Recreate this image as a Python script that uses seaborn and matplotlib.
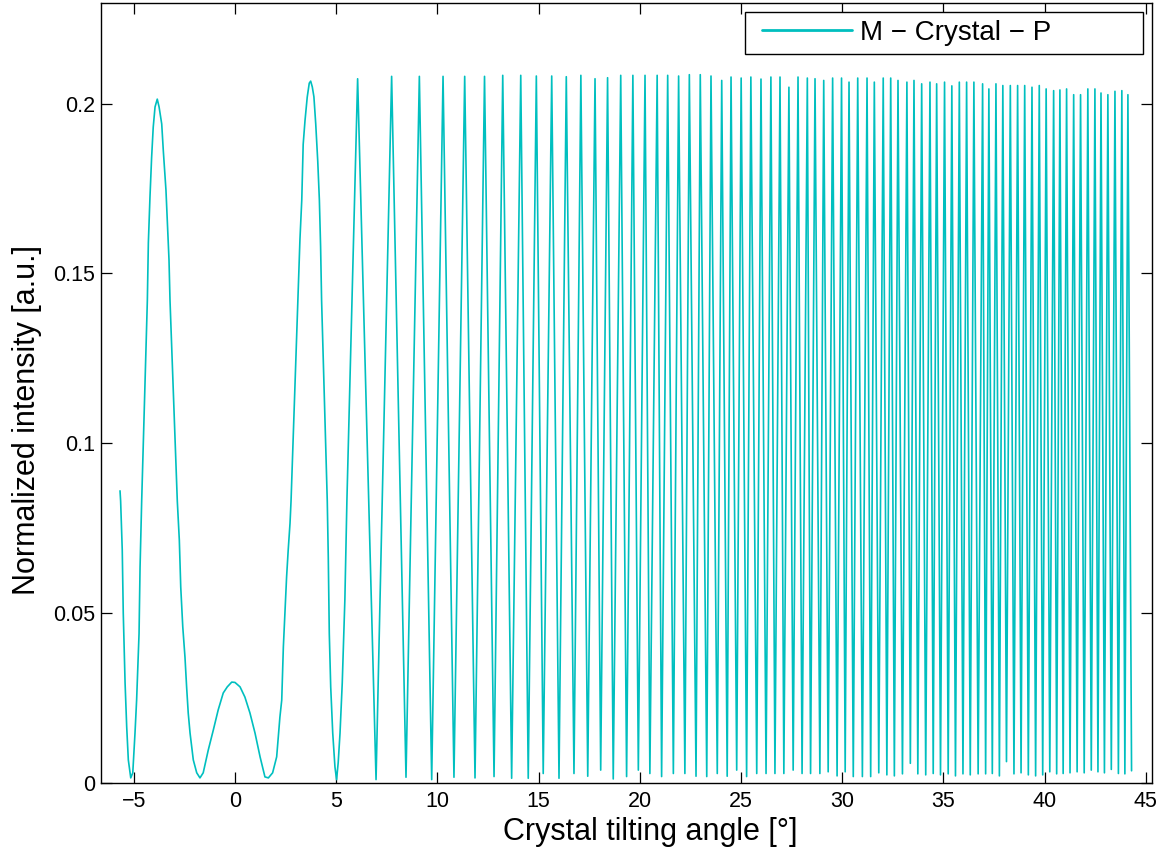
import numpy as np
import matplotlib
matplotlib.use("Agg")
import matplotlib.pyplot as plt
from matplotlib.lines import Line2D
from matplotlib.legend_handler import HandlerLine2D
import seaborn as sns

# ---------------- data ----------------
# smooth low-angle part of the curve (vertices)
early_x = [-5.68, -5.65, -5.57, -5.52, -5.43, -5.35, -5.27, -5.15, -5.05, -4.94,
           -4.86, -4.74, -4.69, -4.61, -4.33, -4.28, -4.20, -4.12, -4.04, -3.95,
           -3.84, -3.75, -3.62, -3.54, -3.41, -3.33, -3.26, -3.21, -2.85, -2.75,
           -2.68, -2.58, -2.47, -2.39, -2.31, -2.22, -2.06, -1.89, -1.73, -1.57,
           -1.32, -1.07, -0.83, -0.58, -0.38, -0.16, 0.00, 0.25, 0.49, 0.74,
           0.99, 1.24, 1.48, 1.65, 1.86, 2.06, 2.22, 2.31, 2.39, 2.47,
           2.55, 2.63, 2.72, 2.77, 3.13, 3.21, 3.30, 3.37, 3.46, 3.57,
           3.67, 3.74, 3.82, 3.90, 3.99, 4.09, 4.17, 4.23, 4.28, 4.56,
           4.61, 4.66, 4.73, 4.83, 4.94, 5.02, 5.10, 5.19, 5.30, 5.43,
           5.50, 5.53]
early_y = [0.0860, 0.0830, 0.0686, 0.0500, 0.0294, 0.0165, 0.0068, 0.0015, 0.0030, 0.0147,
           0.0244, 0.0440, 0.0636, 0.0830, 0.1420, 0.1590, 0.1725, 0.1840, 0.1930, 0.1990,
           0.2013, 0.1990, 0.1940, 0.1860, 0.1745, 0.1637, 0.1540, 0.1420, 0.0830, 0.0715,
           0.0577, 0.0460, 0.0370, 0.0283, 0.0206, 0.0147, 0.0068, 0.0030, 0.0015, 0.0030,
           0.0097, 0.0156, 0.0215, 0.0265, 0.0283, 0.0297, 0.0296, 0.0283, 0.0253, 0.0206,
           0.0147, 0.0077, 0.0018, 0.0015, 0.0030, 0.0077, 0.0194, 0.0244, 0.0400, 0.0500,
           0.0606, 0.0686, 0.0765, 0.0830, 0.1460, 0.1600, 0.1716, 0.1880, 0.1950, 0.2019,
           0.2060, 0.2066, 0.2049, 0.2020, 0.1940, 0.1830, 0.1716, 0.1580, 0.1420, 0.0830,
           0.0665, 0.0440, 0.0283, 0.0147, 0.0047, 0.0010, 0.0060, 0.0147, 0.0294, 0.0540,
           0.0736, 0.0830]

# fringe maxima (angle, intensity) in the fast-oscillating part
peak_x = [6.06, 7.74, 9.11, 10.28, 11.35, 12.33,
          13.23, 14.12, 14.89, 15.65, 16.37, 17.09, 17.79, 18.41, 19.06, 19.66,
          20.26, 20.86, 21.38, 21.92, 22.45, 22.99, 23.52, 24.05, 24.51, 25.01,
          25.49, 25.99, 26.48, 26.93, 27.37, 27.82, 28.28, 28.66, 29.09, 29.53,
          29.97, 30.34, 30.77, 31.23, 31.59, 32.03, 32.40, 32.76, 33.20, 33.55,
          33.93, 34.34, 34.67, 35.06, 35.42, 35.79, 36.15, 36.51, 36.94, 37.25,
          37.60, 37.94, 38.31, 38.67, 39.02, 39.38, 39.74, 40.08, 40.45, 40.76,
          41.09, 41.44, 41.78, 42.14, 42.49, 42.79, 43.13, 43.48, 43.82, 44.12]
peak_y = [0.2073, 0.2080, 0.2080, 0.2080, 0.2080, 0.2080,
          0.2083, 0.2083, 0.2081, 0.2081, 0.2079, 0.2083, 0.2073, 0.2076, 0.2083, 0.2083,
          0.2083, 0.2083, 0.2083, 0.2081, 0.2085, 0.2085, 0.2081, 0.2068, 0.2078, 0.2075,
          0.2078, 0.2072, 0.2078, 0.2078, 0.2048, 0.2078, 0.2075, 0.2073, 0.2068, 0.2075,
          0.2075, 0.2063, 0.2075, 0.2075, 0.2063, 0.2075, 0.2075, 0.2068, 0.2063, 0.2068,
          0.2058, 0.2063, 0.2058, 0.2063, 0.2052, 0.2063, 0.2063, 0.2063, 0.2058, 0.2043,
          0.2058, 0.2053, 0.2053, 0.2053, 0.2053, 0.2048, 0.2053, 0.2043, 0.2038, 0.2040,
          0.2043, 0.2026, 0.2026, 0.2043, 0.2043, 0.2031, 0.2026, 0.2036, 0.2038, 0.2026]

# fringe minima (each one follows the maximum of the same index)
trough_x = [6.97, 8.45, 9.72, 10.82, 11.86,
            12.80, 13.67, 14.49, 15.23, 16.01, 16.75, 17.43, 18.07, 18.69, 19.35,
            19.93, 20.50, 21.08, 21.66, 22.23, 22.78, 23.31, 23.83, 24.32, 24.79,
            25.28, 25.78, 26.24, 26.68, 27.12, 27.58, 28.02, 28.44, 28.90, 29.31,
            29.75, 30.15, 30.55, 31.00, 31.41, 31.81, 32.21, 32.58, 32.98, 33.37,
            33.74, 34.13, 34.50, 34.86, 35.24, 35.60, 35.97, 36.33, 36.72, 37.09,
            37.42, 37.77, 38.12, 38.49, 38.84, 39.20, 39.56, 39.91, 40.26, 40.60,
            40.92, 41.26, 41.61, 41.96, 42.31, 42.64, 42.96, 43.30, 43.65, 43.97,
            44.30]
trough_y = [0.0010, 0.0017, 0.0010, 0.0017, 0.0015,
            0.0019, 0.0014, 0.0014, 0.0028, 0.0014, 0.0028, 0.0020, 0.0038, 0.0012, 0.0019,
            0.0038, 0.0028, 0.0019, 0.0028, 0.0028, 0.0020, 0.0019, 0.0028, 0.0020, 0.0038,
            0.0019, 0.0028, 0.0028, 0.0028, 0.0028, 0.0038, 0.0028, 0.0028, 0.0028, 0.0033,
            0.0021, 0.0033, 0.0019, 0.0019, 0.0019, 0.0030, 0.0024, 0.0021, 0.0027, 0.0058,
            0.0027, 0.0024, 0.0028, 0.0024, 0.0027, 0.0021, 0.0027, 0.0024, 0.0027, 0.0027,
            0.0028, 0.0021, 0.0063, 0.0027, 0.0030, 0.0024, 0.0021, 0.0024, 0.0033, 0.0027,
            0.0028, 0.0030, 0.0033, 0.0030, 0.0038, 0.0033, 0.0030, 0.0040, 0.0028, 0.0027,
            0.0036]

x_ticks = [-5, 0, 5, 10, 15, 20, 25, 30, 35, 40, 45]
y_ticks = [0, 0.05, 0.1, 0.15, 0.2]
y_ticklabels = ["0", "0.05", "0.1", "0.15", "0.2"]
series_label = "M \u2212 Crystal \u2212 P"
x_label = "Crystal tilting angle [\u00b0]"
y_label = "Normalized intensity [a.u.]"

# ---------------- assemble the series ----------------
osc_x = np.column_stack([peak_x, trough_x]).ravel()
osc_y = np.column_stack([peak_y, trough_y]).ravel()
angle = np.concatenate([early_x, osc_x])
intensity = np.concatenate([early_y, osc_y])

# ---------------- styling ----------------
sns.set_theme(style="ticks")
plt.rcParams["font.family"] = ["Liberation Sans", "DejaVu Sans"]
plt.rcParams["axes.unicode_minus"] = True
plt.rcParams["text.color"] = "black"
plt.rcParams["axes.labelcolor"] = "black"
plt.rcParams["xtick.color"] = "black"
plt.rcParams["ytick.color"] = "black"

fig = plt.figure(figsize=(11.71, 8.52), dpi=100)
ax = fig.add_axes([0.08625, 0.08099, 0.89752, 0.91549])

color = "#00BFBF"
sns.lineplot(x=angle, y=intensity, ax=ax, color=color, linewidth=1.2,
             estimator=None, sort=False, label=series_label)

ax.set_xlim(-6.62, 45.31)
ax.set_ylim(0, 0.2296)
ax.set_xticks(x_ticks)
ax.set_yticks(y_ticks)
ax.set_yticklabels(y_ticklabels)

for s in ax.spines.values():
    s.set_visible(True)
    s.set_color("black")
    s.set_linewidth(1.0)

ax.tick_params(axis="both", which="major", direction="in", length=8, width=0.9,
               top=True, right=True, labelsize=15.5, colors="black")
ax.tick_params(axis="x", pad=6)
ax.tick_params(axis="y", pad=4)

ax.set_xlabel(x_label, fontsize=22, color="black")
ax.set_ylabel(y_label, fontsize=22, color="black")
ax.xaxis.set_label_coords(0.5223, -0.043)
ax.yaxis.set_label_coords(-0.0565, 0.4654)

leg = ax.legend(loc="upper left", bbox_to_anchor=(0.6128, 0.9888, 0.3784, 0.0),
                mode="expand", borderaxespad=0, frameon=True, fancybox=False,
                fontsize=20, handlelength=3.54, handletextpad=0.3,
                borderpad=0.3,
                handler_map={Line2D: HandlerLine2D(xpad=0.3)})
frame = leg.get_frame()
frame.set_edgecolor("black")
frame.set_linewidth(1.0)
frame.set_alpha(1)
for line in leg.get_lines():
    line.set_linewidth(2.0)
for t in leg.get_texts():
    t.set_color("black")

fig.savefig("out.png", dpi=100)
